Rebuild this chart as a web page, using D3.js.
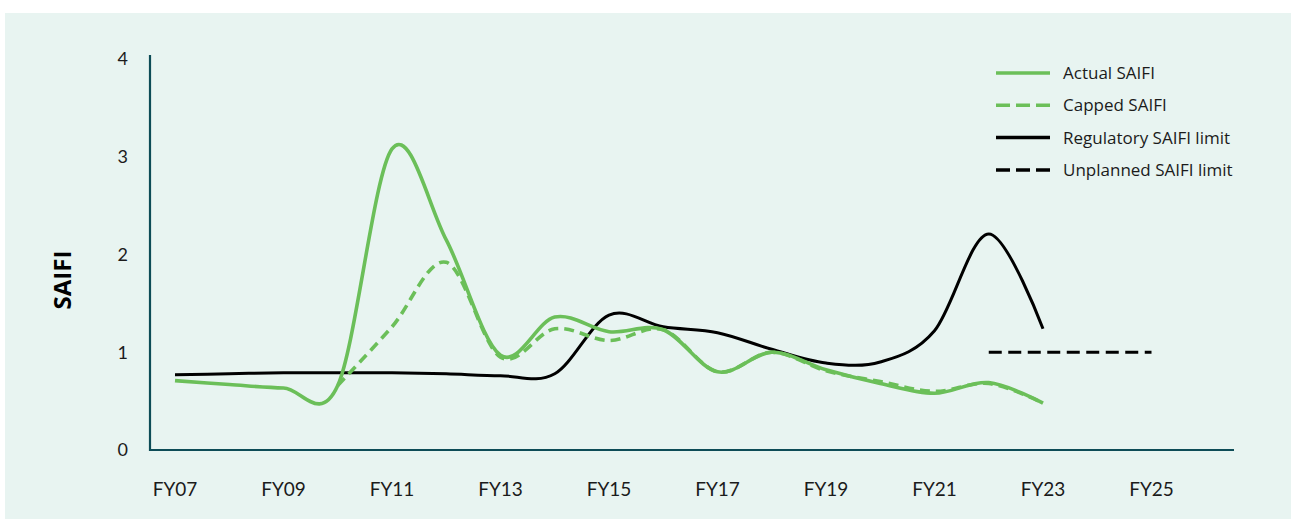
<!DOCTYPE html>
<head>
  <meta charset="utf-8">
  <script src="https://d3js.org/d3.v7.min.js"></script>
  <style>
    body { margin: 0; background: #fff; }
    svg { display: block; font-family: Lato, "Open Sans", sans-serif; }
  </style>
</head>
<body>
  <svg id="chart" width="1296" height="519"></svg>
  <script>
    // data
    var years = d3.range(2007, 2024);
    var actualSaifi = [0.71, 0.67, 0.635, 0.66, 3.08, 2.15, 0.97, 1.36, 1.21, 1.23, 0.80, 1.00, 0.82, 0.68, 0.58, 0.69, 0.48];
    // capped is the same as actual before FY10, so it is only drawn from FY10
    var cappedSaifi = [null, null, null, 0.66, 1.26, 1.92, 0.95, 1.24, 1.12, 1.23, 0.80, 1.00, 0.81, 0.70, 0.60, 0.68, 0.48];
    var regLimit = [0.77, 0.78, 0.79, 0.79, 0.79, 0.78, 0.76, 0.78, 1.38, 1.26, 1.20, 1.03, 0.89, 0.90, 1.22, 2.21, 1.24];
    var unplannedYears = [2022, 2025];
    var unplannedLimit = [1.0, 1.0];
    var tickYears = [2007, 2009, 2011, 2013, 2015, 2017, 2019, 2021, 2023, 2025];
    var yTicks = [0, 1, 2, 3, 4];

    var series = [
      { name: "Actual SAIFI", x: years, y: actualSaifi, color: "#6bbf59", dash: null },
      { name: "Capped SAIFI", x: years, y: cappedSaifi, color: "#6bbf59", dash: "10,6" },
      { name: "Regulatory SAIFI limit", x: years, y: regLimit, color: "#000", dash: null },
      { name: "Unplanned SAIFI limit", x: unplannedYears, y: unplannedLimit, color: "#000", dash: "13,6.5" }
    ];

    var svg = d3.select("#chart");

    // panel
    svg.append("rect")
      .attr("x", 5).attr("y", 13)
      .attr("width", 1286).attr("height", 506)
      .attr("fill", "#e8f4f1");

    var x = d3.scaleLinear().domain([2007, 2023]).range([175, 1043]);
    var y = d3.scaleLinear().domain([0, 4]).range([450, 59]);

    // axes lines
    var axisColor = "#0d4c57";
    svg.append("line")
      .attr("x1", 150).attr("x2", 150).attr("y1", 55).attr("y2", 451)
      .attr("stroke", axisColor).attr("stroke-width", 2.2);
    svg.append("line")
      .attr("x1", 149).attr("x2", 1234).attr("y1", 450).attr("y2", 450)
      .attr("stroke", axisColor).attr("stroke-width", 2.2);

    // tick labels
    svg.append("g").selectAll("text")
      .data(yTicks).enter().append("text")
      .attr("x", 128)
      .attr("y", function (d) { return y(d); })
      .attr("dy", "0.36em")
      .attr("text-anchor", "end")
      .attr("font-size", 18)
      .attr("fill", "#1b1b1b")
      .text(function (d) { return d; });

    svg.append("g").selectAll("text")
      .data(tickYears).enter().append("text")
      .attr("x", function (d) { return x(d); })
      .attr("y", 496)
      .attr("text-anchor", "middle")
      .attr("font-size", 19)
      .attr("fill", "#1b1b1b")
      .text(function (d) { return "FY" + String(d % 100).padStart(2, "0"); });

    svg.append("text")
      .attr("transform", "translate(71,280) rotate(-90)")
      .attr("text-anchor", "middle")
      .attr("font-family", "'Open Sans', sans-serif")
      .attr("font-size", 24)
      .attr("font-weight", "bold")
      .attr("fill", "#000")
      .text("SAIFI");

    // lines
    var line = d3.line()
      .defined(function (d) { return d[1] != null; })
      .x(function (d) { return x(d[0]); })
      .y(function (d) { return y(d[1]); })
      .curve(d3.curveCatmullRom.alpha(0));

    var order = [2, 1, 0, 3];
    order.forEach(function (i) {
      var s = series[i];
      svg.append("path")
        .datum(d3.zip(s.x, s.y))
        .attr("d", line)
        .attr("fill", "none")
        .attr("stroke", s.color)
        .attr("stroke-width", i < 2 ? 3.6 : 3)
        .attr("stroke-dasharray", s.dash);
    });

    // legend
    var legend = svg.append("g").attr("transform", "translate(996,73)");
    var item = legend.selectAll("g")
      .data(series).enter().append("g")
      .attr("transform", function (d, i) { return "translate(0," + (i * 32.3) + ")"; });
    item.append("line")
      .attr("x1", 0).attr("x2", 54)
      .attr("stroke", function (d) { return d.color; })
      .attr("stroke-width", 3.5)
      .attr("stroke-dasharray", function (d) { return d.dash ? "14,6" : null; });
    item.append("text")
      .attr("x", 67)
      .attr("dy", "0.35em")
      .attr("font-family", "'Open Sans', sans-serif")
      .attr("font-size", 17)
      .attr("fill", "#1b1b1b")
      .text(function (d) { return d.name; });
  </script>
</body>
</html>
